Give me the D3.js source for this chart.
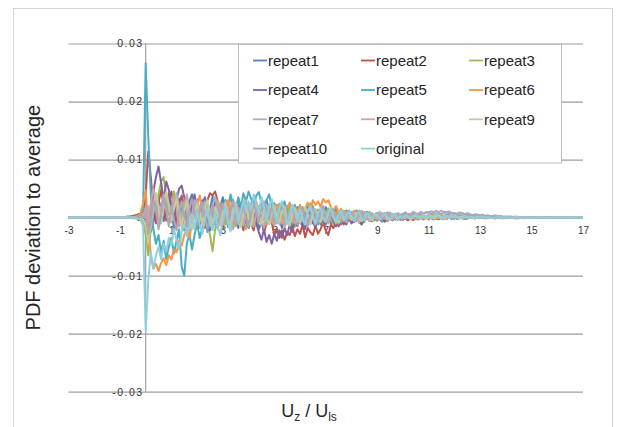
<!DOCTYPE html>
<html>
<head>
<meta charset="utf-8">
<script src="https://cdn.jsdelivr.net/npm/d3@7"></script>
<style>
  html, body { margin: 0; padding: 0; background: #ffffff; }
  svg { display: block; font-family: "Liberation Sans", Arial, sans-serif; }
</style>
</head>
<body>
<svg id="chart" width="617" height="427"></svg>
<script>
// PDF bins along Uz/Uls
const binStart = -3;
const binStep = 0.1;
const binCount = 201;

const xTicks = [-3, -1, 1, 3, 5, 7, 9, 11, 13, 15, 17];
const yTicks = [-0.03, -0.02, -0.01, 0, 0.01, 0.02, 0.03];

const seriesNames = ["repeat1", "repeat2", "repeat3", "repeat4", "repeat5", "repeat6",
                     "repeat7", "repeat8", "repeat9", "repeat10", "original"];
const seriesColors = ["#4F81BD", "#C0504D", "#9BBB59", "#8064A2", "#4BACC6", "#F79646",
                      "#A3B3C8", "#CFA0A4", "#C4CC9C", "#ACA6B8", "#8FCFDC"];

// PDF deviation to the average, in units of 1e-4 (one row per unit of Uz/Uls)
const valueUnit = 1e-4;

const repeat1 = [
  0,0,0,0,0,0,0,0,0,0,
  0,0,0,0,0,0,0,0,0,0,
  0,0,0,0,1,1,1,2,2,3,
  5,-12,-25,-8,18,32,14,-6,22,41,
  12,-18,5,33,8,-22,-5,28,40,9,
  -15,12,30,-4,-20,15,36,10,-12,20,
  35,8,-16,14,30,-2,-18,10,25,6,
  -12,15,28,4,-20,-8,18,30,12,-10,
  8,22,-5,-18,6,20,2,-14,10,18,
  -6,-15,8,22,5,-10,14,4,-12,6,
  18,2,-10,8,15,-4,-12,6,12,-2,
  -8,6,12,-4,-10,4,9,-2,-6,5,
  8,-3,-7,4,7,-2,-5,3,6,-1,
  -4,3,6,-2,-4,2,5,1,-3,2,
  4,-1,-3,3,5,1,-2,2,4,0,
  -2,2,3,-1,-2,1,2,0,-1,1,
  2,0,-1,1,2,0,-1,1,1,0,
  -1,1,1,0,-1,0,1,0,0,1,
  0,0,1,0,0,0,0,1,0,0,
  0,0,0,0,0,0,0,0,0,0,
  0];

const repeat2 = [
  0,0,0,0,0,0,0,0,0,0,
  0,0,0,0,0,0,0,0,0,0,
  0,1,1,2,2,3,4,5,7,10,
  38,114,70,18,-10,25,48,20,-5,30,
  45,15,-12,22,38,10,-15,8,30,12,
  -10,18,5,-18,30,42,38,45,28,5,
  -20,10,24,-6,-15,12,20,-4,-22,8,
  15,-10,-22,5,18,-6,-25,-10,12,-8,
  -30,-18,-35,-22,-38,-25,-30,-15,-32,-20,
  -28,-12,-34,-18,-25,-30,-14,-28,-20,-8,
  -22,-30,-12,-18,-6,-15,-4,-12,2,-6,
  4,-8,-2,6,-4,2,8,-3,-6,4,
  -5,3,6,-2,-6,1,5,-3,2,-4,
  3,-2,-5,2,4,-1,-3,2,-2,1,
  -3,2,4,-1,-3,1,2,-2,0,2,
  1,-2,-1,2,1,-1,0,1,-1,0,
  1,0,-1,1,0,0,1,0,-1,0,
  0,1,0,0,-1,0,0,1,0,0,
  0,0,0,1,0,0,0,0,0,0,
  0,0,0,0,0,0,0,0,0,0,
  0];

const repeat3 = [
  0,0,0,0,0,0,0,0,0,0,
  0,0,0,0,0,0,0,0,0,0,
  0,0,0,0,0,-1,-1,-2,-3,-6,
  -30,-65,-20,25,10,40,62,70,35,5,
  22,45,12,-15,8,30,-8,-25,10,28,
  5,-18,14,32,-5,-30,-58,-20,12,25,
  8,-12,20,35,10,-15,5,22,-10,-20,
  10,25,-5,-15,12,28,6,-12,18,2,
  -10,12,24,5,-14,8,20,-6,-16,10,
  22,6,-12,10,25,8,-8,14,4,-10,
  8,16,-4,-12,10,4,-8,12,6,-6,
  5,-6,8,12,-2,-8,6,10,-3,-5,
  6,2,-5,4,8,-2,-4,5,1,-3,
  4,-2,3,6,-1,-3,4,2,-2,3,
  2,5,-1,-2,3,6,1,-2,2,4,
  -1,2,3,0,-2,1,2,-1,1,0,
  1,-1,0,2,1,-1,0,1,0,-1,
  0,1,0,-1,0,1,0,0,1,0,
  0,0,1,0,0,0,0,1,0,0,
  0,0,0,0,0,0,0,0,0,0,
  0];

const repeat4 = [
  0,0,0,0,0,0,0,0,0,0,
  0,0,0,0,0,0,0,0,0,0,
  0,0,0,0,0,0,0,-1,-1,-2,
  -5,-22,10,45,70,88,60,30,62,48,
  12,-10,30,50,55,35,5,-15,20,40,
  10,-15,22,35,-8,-22,5,30,14,-10,
  15,30,6,-20,-8,18,32,12,-15,-2,
  -18,-5,12,-10,-25,-38,-20,-42,-30,-45,
  -28,-40,-22,-35,-18,-30,-12,-25,-5,-15,
  8,-10,-20,5,14,-6,-18,2,10,-8,
  -12,4,10,-6,-15,-2,6,-8,-12,2,
  -10,-4,5,-8,-12,-2,4,-6,-3,3,
  -5,2,-3,-7,1,4,-4,-2,3,-1,
  -3,1,3,-2,-4,0,2,-1,-3,1,
  2,-1,-3,1,3,-2,-1,2,0,-2,
  1,-1,0,2,-1,-2,1,0,-1,1,
  0,1,-1,0,1,0,-1,0,1,0,
  0,0,1,0,0,-1,0,0,0,1,
  0,0,0,0,0,0,0,0,0,0,
  0,0,0,0,0,0,0,0,0,0,
  0];

const repeat5 = [
  0,0,0,0,0,0,0,0,0,0,
  0,0,0,0,0,0,0,0,0,0,
  0,0,0,0,0,1,1,2,4,12,
  266,140,40,-20,-45,-30,-60,-40,-72,-50,
  -35,-62,-40,-20,-85,-100,-45,-28,-55,-30,
  -10,-35,-18,5,-25,-8,15,-12,6,20,
  8,30,15,40,22,10,35,18,42,28,
  45,32,20,38,44,25,12,30,40,18,
  25,8,-6,15,28,5,-10,12,22,-4,
  10,18,-8,-14,6,20,2,-12,8,14,
  -4,6,14,2,-8,10,4,-6,8,12,
  2,-5,8,4,-6,6,10,-2,4,-4,
  6,-2,4,8,-3,2,6,-1,-4,3,
  2,5,-2,3,6,0,-3,4,2,-1,
  3,1,-2,4,2,-1,3,5,0,-2,
  2,-1,1,3,0,-1,2,1,-1,0,
  1,0,1,-1,0,1,1,0,0,-1,
  0,1,0,0,1,0,0,-1,0,0,
  0,0,0,1,0,0,1,0,0,0,
  0,0,0,0,0,0,0,0,0,0,
  0];

const repeat6 = [
  0,0,0,0,0,0,0,0,0,0,
  0,0,0,0,0,0,0,0,0,0,
  0,0,0,0,0,1,2,3,8,25,
  47,-20,-65,-88,-80,-92,-78,-70,-82,-65,
  -72,-55,-60,-40,-48,-30,-20,-35,-10,5,
  20,38,15,-5,22,10,-15,8,30,12,
  -8,15,30,18,-5,20,12,-10,6,25,
  10,-6,14,28,8,-12,5,20,2,-8,
  12,22,4,-10,8,18,26,10,-4,14,
  20,8,15,26,12,30,22,28,18,32,
  26,30,18,12,20,8,15,4,10,-2,
  6,12,2,-6,8,10,-3,5,8,0,
  -4,5,8,1,-5,3,6,-2,4,2,
  5,-2,2,6,1,-3,3,5,-1,2,
  -2,3,5,0,-1,4,2,-2,1,3,
  1,2,-1,0,2,1,-1,1,0,1,
  0,1,0,-1,1,0,0,1,-1,0,
  1,0,0,0,-1,0,1,0,0,0,
  0,0,1,0,0,0,0,0,1,0,
  0,0,0,0,0,0,0,0,0,0,
  0];

const repeat7 = [
  0,0,0,0,0,0,0,0,0,0,
  0,0,0,0,0,0,0,0,0,0,
  0,0,0,0,0,0,0,1,1,2,
  6,20,-15,8,35,22,-10,15,38,20,
  -8,20,42,18,-6,25,10,-20,5,30,
  18,-6,10,28,4,-14,22,36,12,-8,
  12,28,-4,-18,8,24,14,-6,18,30,
  5,-10,18,26,8,-14,4,22,14,-6,
  16,4,-12,10,20,-2,-10,8,18,6,
  -10,6,16,2,-12,8,14,-4,6,18,
  4,-8,8,14,-2,-10,6,10,-4,2,
  8,2,-4,6,10,4,-2,8,5,1,
  6,10,3,-2,7,9,4,1,8,5,
  7,9,4,6,10,8,5,9,7,10,
  8,11,9,6,10,12,8,9,11,7,
  8,6,9,7,5,8,6,4,6,5,
  4,5,3,4,2,3,4,2,3,2,
  2,1,2,1,2,1,1,0,1,1,
  1,0,1,0,0,1,0,0,0,0,
  0,0,0,0,0,0,0,0,0,0,
  0];

const repeat8 = [
  0,0,0,0,0,0,0,0,0,0,
  0,0,0,0,0,0,0,0,0,0,
  0,0,0,0,0,0,1,1,2,4,
  15,-10,25,50,28,-5,18,40,15,-12,
  10,35,18,-15,-5,22,40,12,-10,18,
  32,14,-8,10,26,-2,-16,12,28,8,
  -12,6,20,-8,-20,4,18,8,-14,10,
  22,4,-16,8,20,-4,-18,6,16,-6,
  -14,6,14,-4,-16,2,12,-2,-10,4,
  14,2,-10,8,16,-2,-12,4,10,-4,
  -8,4,12,-2,-10,6,2,-6,8,4,
  -4,6,2,-8,4,8,-2,-6,3,5,
  -2,4,-3,2,5,-1,-4,3,1,-2,
  3,-1,2,4,-2,1,3,0,-2,2,
  4,2,-1,3,5,1,0,3,2,-1,
  2,0,1,2,-1,1,0,1,0,1,
  0,1,0,0,1,-1,0,1,0,0,
  0,0,1,0,0,0,0,1,0,0,
  0,0,0,0,0,0,0,0,0,0,
  0,0,0,0,0,0,0,0,0,0,
  0];

const repeat9 = [
  0,0,0,0,0,0,0,0,0,0,
  0,0,0,0,0,0,0,0,0,0,
  0,0,0,0,0,0,0,-1,-1,-3,
  -12,-40,-15,20,42,18,-8,25,45,22,
  -5,15,32,8,-18,12,28,-2,-20,6,
  24,8,-12,16,30,6,-10,18,4,-14,
  10,24,2,-12,16,26,-4,-16,6,20,
  -2,-14,10,22,6,-10,14,2,-12,8,
  20,4,-8,12,18,-6,-14,6,16,2,
  -8,10,18,4,-10,6,14,-2,-8,12,
  6,-6,4,12,-4,-8,8,2,-6,6,
  -3,5,9,-2,-6,4,7,-1,-5,3,
  4,-2,3,6,-3,-1,4,2,-3,1,
  -2,3,1,-3,2,4,-1,2,3,-2,
  1,3,-2,2,4,0,-1,3,1,2,
  0,1,-1,2,1,0,1,-1,0,1,
  1,0,0,1,-1,0,1,0,0,0,
  0,1,0,0,0,1,0,0,0,0,
  0,0,0,0,0,0,0,0,0,0,
  0,0,0,0,0,0,0,0,0,0,
  0];

const repeat10 = [
  0,0,0,0,0,0,0,0,0,0,
  0,0,0,0,0,0,0,0,0,0,
  0,0,0,0,0,0,0,0,1,1,
  3,-28,-10,30,15,-20,5,35,12,-15,
  20,-4,-22,10,28,2,-16,15,32,8,
  -12,14,26,0,-18,8,22,-6,-20,10,
  24,6,-10,16,28,4,-12,10,22,-2,
  -16,6,24,10,-8,16,28,12,-4,20,
  6,-10,14,24,8,-8,10,20,2,-12,
  8,18,-2,-14,4,16,6,-8,12,20,
  2,-10,6,14,-4,-2,10,4,-8,6,
  10,2,-6,8,12,-2,4,9,-3,6,
  8,3,-2,6,9,2,-1,7,4,-2,
  5,8,3,6,9,4,7,10,6,8,
  10,7,9,12,8,6,10,9,7,8,
  6,7,5,8,6,4,5,3,4,5,
  3,4,2,3,2,3,1,2,2,1,
  1,2,1,1,0,1,1,0,1,0,
  0,1,0,0,0,0,1,0,0,0,
  0,0,0,0,0,0,0,0,0,0,
  0];

const original = [
  0,0,0,0,0,0,0,0,0,0,
  0,0,0,0,0,0,0,0,0,0,
  0,0,0,0,0,0,-1,-2,-4,-15,
  -195,-110,-60,-88,-65,-50,-72,-45,-58,-35,
  -48,-20,-38,-55,-25,-10,-32,-15,5,-20,
  10,-12,-28,-5,15,-10,-22,8,-15,-30,
  -5,18,-10,-24,4,20,-8,12,30,10,
  28,12,40,22,8,35,18,-5,20,32,
  10,-8,18,28,6,-12,4,22,10,-6,
  14,-4,-12,10,20,4,-10,8,16,2,
  -6,10,16,2,-8,6,12,-4,4,10,
  2,-6,6,10,-2,-5,8,4,-3,6,
  5,-3,2,7,1,-4,3,6,-1,2,
  -1,4,2,-2,3,5,0,-2,4,1,
  3,-1,2,5,1,-2,3,2,-1,4,
  1,2,0,-1,2,1,0,1,-1,0,
  0,1,0,1,0,-1,0,1,0,0,
  1,0,0,0,1,0,0,0,0,0,
  0,0,0,0,0,0,0,0,0,0,
  0,0,0,0,0,0,0,0,0,0,
  0];

const seriesValues = [repeat1, repeat2, repeat3, repeat4, repeat5, repeat6,
                      repeat7, repeat8, repeat9, repeat10, original];

const bins = d3.range(binCount).map(i => +(binStart + i * binStep).toFixed(1));

const series = seriesNames.map((name, k) => ({
  name,
  color: seriesColors[k],
  points: bins.map((x, i) => ({ x, y: seriesValues[k][i] * valueUnit }))
}));

const svg = d3.select("#chart");
const W = 617, H = 427;
const plot = { left: 68.5, right: 583, top: 43.5, bottom: 391.7 };

svg.append("rect").attr("width", W).attr("height", H).attr("fill", "#ffffff");

// outer chart frame
svg.append("rect")
  .attr("x", 13.5).attr("y", 8.5)
  .attr("width", 599).attr("height", 440)
  .attr("fill", "none").attr("stroke", "#d6d6d6").attr("stroke-width", 1);

const x = d3.scaleLinear().domain([xTicks[0], xTicks[xTicks.length - 1]]).range([plot.left, plot.right]);
const y = d3.scaleLinear().domain([yTicks[0], yTicks[yTicks.length - 1]]).range([plot.bottom, plot.top]);

// horizontal gridlines
const grid = svg.append("g")
  .attr("transform", `translate(${plot.left},0)`)
  .call(d3.axisRight(y).tickValues(yTicks).tickSize(plot.right - plot.left).tickFormat(""));
grid.select(".domain").remove();
grid.selectAll(".tick line").attr("stroke", "#9c9c9c").attr("stroke-width", 1.2);

// vertical axis line at x = 0
svg.append("line")
  .attr("x1", x(0)).attr("x2", x(0))
  .attr("y1", y(yTicks[yTicks.length - 1])).attr("y2", y(yTicks[0]))
  .attr("stroke", "#a0a0a0").attr("stroke-width", 1.2);

// y tick labels, placed next to the vertical axis
const fmtY = d => d === 0 ? "0" : d3.format(".2f")(d).replace("\u2212", "-");
const yAxis = svg.append("g")
  .attr("transform", `translate(${x(0)},0)`)
  .call(d3.axisLeft(y).tickValues(yTicks).tickSize(0).tickPadding(2).tickFormat(fmtY));
yAxis.select(".domain").remove();
yAxis.selectAll(".tick text")
  .attr("fill", "#333").attr("font-size", 10.5)
  .attr("font-family", "'Liberation Sans', Arial, sans-serif")
  .attr("letter-spacing", 1.5);

// x tick labels, below the zero line
const xAxis = svg.append("g")
  .attr("transform", `translate(0,${y(0)})`)
  .call(d3.axisBottom(x).tickValues(xTicks).tickSize(0).tickPadding(9).tickFormat(d => String(d)));
xAxis.select(".domain").remove();
xAxis.selectAll(".tick text")
  .attr("fill", "#333").attr("font-size", 10)
  .attr("font-family", "'Liberation Sans', Arial, sans-serif");

// series lines
const line = d3.line().x(d => x(d.x)).y(d => y(d.y));
svg.append("g").selectAll("path")
  .data(series)
  .join("path")
  .attr("d", d => line(d.points))
  .attr("fill", "none")
  .attr("stroke", d => d.color)
  .attr("stroke-width", 2)
  .attr("stroke-linejoin", "round");

// legend
const legend = svg.append("g");
legend.append("rect")
  .attr("x", 238.5).attr("y", 44.5).attr("width", 323).attr("height", 118.5)
  .attr("fill", "#ffffff").attr("stroke", "#bdbdbd").attr("stroke-width", 1);
const colX = [253, 361, 469];
const rowY = [60.5, 90, 119.3, 148.6];
const items = legend.selectAll("g.item")
  .data(series)
  .join("g")
  .attr("class", "item")
  .attr("transform", (d, i) => `translate(${colX[i % 3]},${rowY[Math.floor(i / 3)]})`);
items.append("line")
  .attr("x1", 0).attr("x2", 14).attr("y1", 0).attr("y2", 0)
  .attr("stroke", d => d.color).attr("stroke-width", 1.8);
items.append("text")
  .attr("x", 15).attr("y", 0).attr("dy", "0.35em")
  .attr("font-size", 15).attr("fill", "#262626")
  .text(d => d.name);

// axis titles
svg.append("text")
  .attr("transform", `translate(40,${(plot.top + plot.bottom) / 2}) rotate(-90)`)
  .attr("text-anchor", "middle")
  .attr("font-size", 20).attr("fill", "#262626")
  .text("PDF deviation to average");

const xt = svg.append("text")
  .attr("x", 309).attr("y", 417)
  .attr("text-anchor", "middle")
  .attr("font-size", 18).attr("fill", "#262626");
xt.append("tspan").text("U");
xt.append("tspan").attr("font-size", 12).attr("dy", 4).text("z");
xt.append("tspan").attr("dy", -4).text(" / U");
xt.append("tspan").attr("font-size", 12).attr("dy", 4).text("ls");
</script>
</body>
</html>
